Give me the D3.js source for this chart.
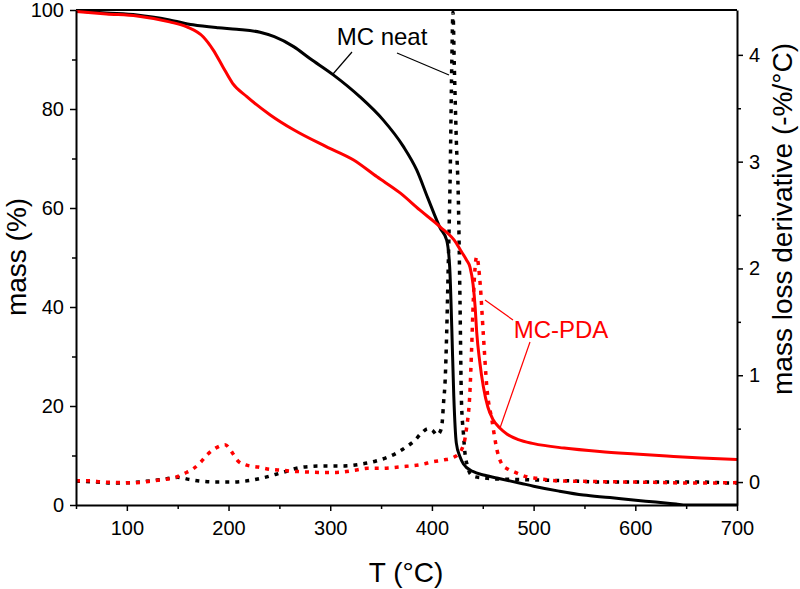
<!DOCTYPE html>
<html>
<head>
<meta charset="utf-8">
<script src="https://cdn.jsdelivr.net/npm/d3@7"></script>
<style>
  body { margin: 0; background: #fff; }
  svg { display: block; font-family: "Liberation Sans", Arial, sans-serif; }
</style>
</head>
<body>
<svg id="chart" width="800" height="589"></svg>
<script>
// ---- Data ----
// Mass curve, MC neat
const neatMassT = [50, 80, 110, 142, 165, 190, 208, 231, 245, 264, 280, 303, 329, 352, 372, 385, 396, 408, 414.5, 417.5, 419.5, 421.5, 424, 427.5, 431, 440, 452, 467, 487, 500, 525, 549, 575, 598, 620, 640, 650, 700];
const neatMass  = [99.8, 99.4, 99.0, 98.0, 97.0, 96.4, 96.1, 95.5, 94.6, 92.6, 90.2, 86.9, 82.5, 77.8, 72.4, 67.7, 62, 56, 53.5, 48, 36, 22, 12.5, 9.8, 8.3, 6.8, 6.0, 5.3, 4.4, 3.8, 2.8, 2.0, 1.5, 1.0, 0.6, 0.2, 0, 0];
// Mass curve, MC-PDA
const pdaMassT = [50, 80, 110, 142, 159, 175, 185, 194.5, 204, 218, 241, 264, 296, 323, 346, 369, 388, 408, 424, 428, 434, 437.5, 440.5, 442.5, 444, 447, 450.5, 455, 460, 467, 474, 485, 500, 530, 565, 600, 631, 665, 700];
const pdaMass  = [99.7, 99.2, 98.8, 97.6, 96.6, 94.6, 91.9, 88.5, 85.2, 82.5, 78.8, 75.8, 72.4, 69.7, 66.3, 63, 59.6, 56.2, 52.9, 51.5, 49.5, 48, 44.5, 40, 35, 29, 24, 19.8, 17.3, 15.5, 14.3, 13.2, 12.4, 11.5, 10.8, 10.3, 9.9, 9.5, 9.2];
// Mass loss derivative, MC neat
const neatDerT = [50, 70, 89, 115, 135, 150, 161, 171, 188, 201, 214, 234, 253, 273, 293, 312, 329, 345, 365, 375, 382, 390, 396, 401, 405, 408, 410, 411.5, 413, 414.5, 416, 418, 419.5, 420.7, 422, 424, 426, 427.6, 429, 431, 432.5, 435, 437.5, 442, 450, 460, 477, 500, 540, 565, 600, 640, 667, 696, 700];
const neatDer  = [0.01, 0.0, -0.01, 0.003, 0.025, 0.044, 0.025, 0.01, 0, 0, 0.006, 0.04, 0.09, 0.14, 0.15, 0.15, 0.166, 0.197, 0.27, 0.33, 0.38, 0.46, 0.5, 0.48, 0.44, 0.47, 0.55, 0.75, 0.95, 1.39, 2.0, 2.9, 3.9, 4.40, 3.9, 3.2, 2.64, 1.7, 0.77, 0.45, 0.27, 0.15, 0.08, 0.05, 0.04, 0.03, 0.025, 0.02, 0.01, 0, 0, 0, 0, -0.01, -0.01];
// Mass loss derivative, MC-PDA
const pdaDerT = [50, 63, 76, 88, 102, 114, 125, 137, 148, 156.5, 164.7, 172, 179.5, 187.7, 196.5, 204, 209, 217, 229, 240, 252, 265, 278, 293, 306, 324, 337, 350, 370, 390, 401, 411, 421, 429, 434, 437.4, 439, 440.7, 444, 447.4, 450.5, 454, 459, 464, 470, 475, 482, 493, 503, 523, 560, 600, 663, 700];
const pdaDer  = [0.012, 0.012, 0, -0.003, -0.007, -0.003, 0.01, 0.025, 0.044, 0.08, 0.12, 0.18, 0.26, 0.32, 0.35, 0.27, 0.2, 0.16, 0.14, 0.12, 0.11, 0.1, 0.094, 0.09, 0.09, 0.11, 0.128, 0.128, 0.143, 0.165, 0.19, 0.206, 0.23, 0.3, 0.5, 0.85, 1.24, 1.7, 2.11, 1.86, 1.39, 0.89, 0.58, 0.3, 0.15, 0.12, 0.09, 0.05, 0.035, 0.012, 0.005, 0, -0.01, -0.005];

// Tick labels
const xTicks = [100, 200, 300, 400, 500, 600, 700];
const xMinorTicks = [50, 150, 250, 350, 450, 550, 650];
const yTicks = [0, 20, 40, 60, 80, 100];
const yMinorTicks = [10, 30, 50, 70, 90];
const y2Ticks = [0, 1, 2, 3, 4];
const y2MinorTicks = [0.5, 1.5, 2.5, 3.5];

// Labels
const xTitle = "T (°C)";
const yTitle = "mass (%)";
const y2Title = "mass loss derivative (-%/°C)";
const neatLabel = "MC neat";
const pdaLabel = "MC-PDA";

// ---- Layout ----
const svg = d3.select("#chart");
const L = 76, R = 737, T = 10, B = 505;

const x = d3.scaleLinear().domain([50, 700]).range([L, R]);
const y = d3.scaleLinear().domain([0, 100]).range([B, T]);
const y2 = d3.scaleLinear().domain([-0.215, 4.42]).range([B, T]);

const RED = "#ff0000";

// frame top line
svg.append("line").attr("x1", L).attr("x2", R).attr("y1", T).attr("y2", T)
  .attr("stroke", "#000").attr("stroke-width", 2);

// curves
svg.append("clipPath").attr("id", "clip").append("rect")
  .attr("x", L).attr("y", T - 1).attr("width", R - L).attr("height", B - T + 1);
const g = svg.append("g").attr("clip-path", "url(#clip)");

const lineMass = d3.line().x(d => x(d[0])).y(d => y(d[1])).curve(d3.curveMonotoneX);
const lineDer = d3.line().x(d => x(d[0])).y(d => y2(d[1])).curve(d3.curveMonotoneX);

g.append("path").datum(d3.zip(neatDerT, neatDer)).attr("d", lineDer)
  .attr("fill", "none").attr("stroke", "#000").attr("stroke-width", 3.5).attr("stroke-dasharray", "4,6");
g.append("path").datum(d3.zip(pdaDerT, pdaDer)).attr("d", lineDer)
  .attr("fill", "none").attr("stroke", RED).attr("stroke-width", 3.5).attr("stroke-dasharray", "4,6");
g.append("path").datum(d3.zip(neatMassT, neatMass)).attr("d", lineMass)
  .attr("fill", "none").attr("stroke", "#000").attr("stroke-width", 3);
g.append("path").datum(d3.zip(pdaMassT, pdaMass)).attr("d", lineMass)
  .attr("fill", "none").attr("stroke", RED).attr("stroke-width", 3);

// axes
function styleAxis(sel) {
  sel.selectAll(".domain").attr("stroke", "#000").attr("stroke-width", 2);
  sel.selectAll(".tick line").attr("stroke", "#000").attr("stroke-width", 1.5);
  sel.selectAll(".tick text").attr("fill", "#000").style("font-size", "20px")
    .style("font-family", '"Liberation Sans", Arial, sans-serif');
}
const gx = svg.append("g").attr("transform", `translate(0,${B})`)
  .call(d3.axisBottom(x).tickValues(xTicks).tickSize(6).tickSizeOuter(0).tickPadding(10).tickFormat(d3.format("d")));
styleAxis(gx);
const gxm = svg.append("g").attr("transform", `translate(0,${B})`)
  .call(d3.axisBottom(x).tickValues(xMinorTicks).tickSize(4).tickSizeOuter(0).tickFormat(""));
styleAxis(gxm); gxm.select(".domain").remove();

const gy = svg.append("g").attr("transform", `translate(${L},0)`)
  .call(d3.axisLeft(y).tickValues(yTicks).tickSize(6).tickSizeOuter(0).tickPadding(6).tickFormat(d3.format("d")));
styleAxis(gy);
const gym = svg.append("g").attr("transform", `translate(${L},0)`)
  .call(d3.axisLeft(y).tickValues(yMinorTicks).tickSize(4).tickSizeOuter(0).tickFormat(""));
styleAxis(gym); gym.select(".domain").remove();

const gy2 = svg.append("g").attr("transform", `translate(${R},0)`)
  .call(d3.axisRight(y2).tickValues(y2Ticks).tickSize(6).tickSizeOuter(0).tickPadding(6).tickFormat(d3.format("d")));
styleAxis(gy2);
const gy2m = svg.append("g").attr("transform", `translate(${R},0)`)
  .call(d3.axisRight(y2).tickValues(y2MinorTicks).tickSize(4).tickSizeOuter(0).tickFormat(""));
styleAxis(gy2m); gy2m.select(".domain").remove();

// axis titles
svg.append("text").attr("x", 406).attr("y", 582).attr("text-anchor", "middle")
  .style("font-size", "28px").text(xTitle);
svg.append("text").attr("transform", `translate(26,257) rotate(-90)`).attr("text-anchor", "middle")
  .style("font-size", "28px").text(yTitle);
svg.append("text").attr("transform", `translate(792,219) rotate(-90)`).attr("text-anchor", "middle")
  .style("font-size", "28px").text(y2Title);

// annotations
svg.append("text").attr("x", 382).attr("y", 45).attr("text-anchor", "middle")
  .style("font-size", "24px").text(neatLabel);
svg.append("line").attr("x1", 352).attr("y1", 52).attr("x2", 333).attr("y2", 74)
  .attr("stroke", "#000").attr("stroke-width", 1.2);
svg.append("line").attr("x1", 397).attr("y1", 53).attr("x2", 449).attr("y2", 75)
  .attr("stroke", "#000").attr("stroke-width", 1.2);

svg.append("text").attr("x", 561).attr("y", 338).attr("text-anchor", "middle")
  .attr("fill", RED).style("font-size", "24px").text(pdaLabel);
svg.append("line").attr("x1", 485).attr("y1", 300).attr("x2", 513).attr("y2", 320)
  .attr("stroke", RED).attr("stroke-width", 1.2);
svg.append("line").attr("x1", 530).attr("y1", 342).attr("x2", 500).attr("y2", 428)
  .attr("stroke", RED).attr("stroke-width", 1.2);
</script>
</body>
</html>
